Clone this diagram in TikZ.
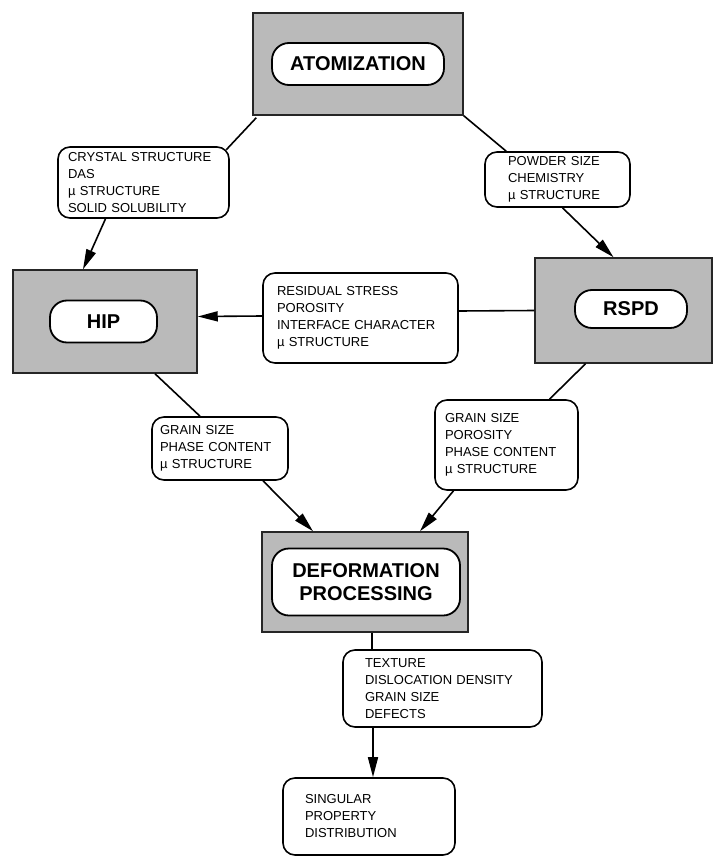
\documentclass[tikz,border=0pt]{standalone}
\usepackage{fontspec}
\setmainfont{Liberation Sans}
\usetikzlibrary{positioning,arrows.meta}

\tikzset{
  stage/.style={draw=black!85, fill=black!27, line width=1.5pt, inner sep=0pt},
  tag/.style={draw, fill=white, rounded corners=17pt, line width=1.8pt, inner sep=0pt,
    font=\bfseries\fontsize{20}{23}\selectfont, align=center},
  info/.style={draw, fill=white, rounded corners=12pt, line width=1.6pt, align=left,
    inner ysep=0pt, font=\fontsize{13}{17}\selectfont},
}

\begin{document}
\begin{tikzpicture}[x=1pt, y=1pt, line width=1.6pt, >={Triangle[length=20pt,width=10pt]}]
    \useasboundingbox (0,0) rectangle (714,-856);

    % process stages
    \node[stage, minimum width=210pt, minimum height=102pt] (atom) at (358,-64) {};
    \node[tag, minimum width=172pt, minimum height=42pt] (atomtag) at (atom) {ATOMIZATION};
    \node[stage, minimum width=184pt, minimum height=103pt] (hip) at (105,-321.5) {};
    \node[tag, minimum width=107pt, minimum height=42pt] (hiptag) at ([xshift=-1.5pt]hip) {HIP};
    \node[stage, minimum width=177pt, minimum height=105pt] (rspd) at (623.5,-310.5) {};
    \node[tag, minimum width=112pt, minimum height=38pt] (rspdtag) at ([shift={(7.5pt,1.5pt)}]rspd) {RSPD};
    \node[stage, minimum width=206pt, minimum height=100pt] (def) at (365,-582) {};
    \node[tag, minimum width=188pt, minimum height=67pt] (deftag) at ([xshift=1pt]def) {DEFORMATION\\PROCESSING};

    % what each step hands on
    \node[info, text width=151pt, inner xsep=10pt, minimum height=71pt] (crystal) at (143.5,-182.5)
        {CRYSTAL STRUCTURE\\DAS\\µ STRUCTURE\\SOLID SOLUBILITY};
    \node[info, text width=99pt, inner xsep=23pt, minimum height=55pt] (powder) at (557.5,-179.5)
        {POWDER SIZE\\CHEMISTRY\\µ STRUCTURE};
    \node[info, text width=167pt, inner xsep=14pt, minimum height=90pt] (residual) at (360.5,-318)
        {RESIDUAL STRESS\\POROSITY\\INTERFACE CHARACTER\\µ STRUCTURE};
    \node[info, text width=120pt, inner xsep=8pt, minimum height=63pt] (grainL) at (220,-448.5)
        {GRAIN SIZE\\PHASE CONTENT\\µ STRUCTURE};
    \node[info, text width=123pt, inner xsep=10pt, minimum height=90pt] (grainR) at (506.5,-445)
        {GRAIN SIZE\\POROSITY\\PHASE CONTENT\\µ STRUCTURE};
    \node[info, text width=155pt, inner xsep=22pt, minimum height=77pt] (texture) at (442.5,-688.5)
        {TEXTURE\\DISLOCATION DENSITY\\GRAIN SIZE\\DEFECTS};
    \node[info, text width=128pt, inner xsep=22pt, minimum height=77pt] (singular) at (369,-816.5)
        {SINGULAR\\PROPERTY\\DISTRIBUTION};

    \draw ([shift={(4pt,-2pt)}]atom.south west) -- ([shift={(-3.5pt,-3.5pt)}]crystal.north east);
    \draw[->] ([xshift=-38pt]crystal.south) -- ([xshift=-22pt]hip.north);
    \draw (atom.south east) -- ([xshift=22pt]powder.north west);
    \draw[->] ([xshift=5pt]powder.south) -- ([xshift=-10pt]rspd.north);
    \draw ([yshift=7pt]residual.east) -- (rspd.west);
    \draw[->] ([yshift=2pt]residual.west) -- ([yshift=5pt]hip.east);
    \draw ([xshift=50pt]hip.south) -- ([xshift=-20pt]grainL.north);
    \draw[->] ([xshift=43pt]grainL.south) -- ([xshift=-52pt]def.north);
    \draw ([xshift=-38pt]rspd.south) -- ([xshift=43pt]grainR.north);
    \draw[->] ([xshift=-53pt]grainR.south) -- ([xshift=55pt]def.north);
    \draw ([xshift=7pt]def.south) -- ([xshift=-70.5pt]texture.north);
    \draw[->] ([xshift=-69.5pt]texture.south) -- ([xshift=4pt]singular.north);
\end{tikzpicture}
\end{document}
